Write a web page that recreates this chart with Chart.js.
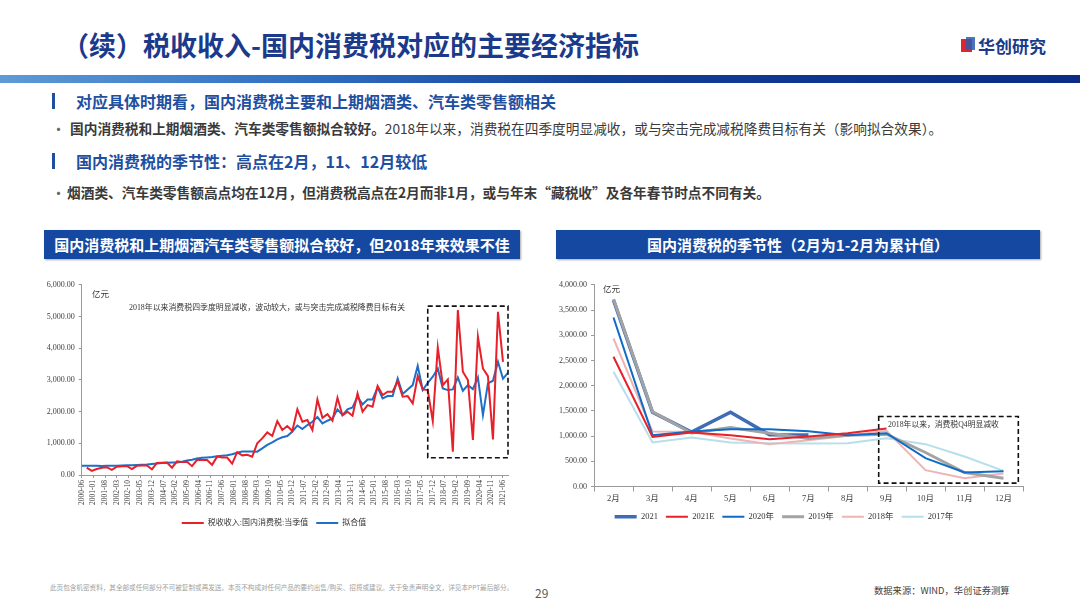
<!DOCTYPE html>
<html>
<head>
<meta charset="utf-8">
<script src="https://cdn.jsdelivr.net/npm/chart.js@4.4.0/dist/chart.umd.min.js"></script>
<style>
body{margin:0;width:1080px;height:604px;position:relative;background:#fff;overflow:hidden;font-family:"Noto Sans CJK SC",sans-serif;}
.abs{position:absolute;white-space:nowrap;line-height:1;}
.title{left:62px;top:31px;font-size:27px;font-weight:700;color:#1b3a8c;}
.band{left:0;top:75px;width:1080px;height:8px;background:linear-gradient(90deg,#5d9ad6 0%,#2e6cc0 30%,#123f98 55%,#0a2c86 100%);}
.hbar{width:3px;height:16px;background:#1f4fa0;left:52px;}
.head{left:76px;font-size:16px;font-weight:700;color:#1f4fa0;}
.dot{left:51px;font-size:15px;color:#666;}
.txt{left:70px;font-size:13.7px;color:#3a3a3a;}
.box{height:29px;background:#1549a1;color:#fff;font-weight:700;font-size:15px;line-height:29px;text-align:center;box-shadow:1px 1px 2px rgba(0,0,0,0.35);}
.note{font-family:"Liberation Serif","Noto Sans CJK SC",serif;color:#333;}
</style>
</head>
<body>
<div class="abs title">（续）税收收入-国内消费税对应的主要经济指标</div>
<div class="abs" style="left:961px;top:39px;width:11px;height:13px;background:#e0262c;"></div>
<div class="abs" style="left:966px;top:37px;width:9px;height:13px;background:#2a5db0;opacity:0.85;"></div>
<div class="abs" style="left:978px;top:37px;font-size:17px;font-weight:700;color:#1b3a8c;">华创研究</div>
<div class="abs band"></div>

<div class="abs hbar" style="top:93px;"></div>
<div class="abs head" style="top:93px;">对应具体时期看，国内消费税主要和上期烟酒类、汽车类零售额相关</div>
<div class="abs dot" style="top:121px;">•</div>
<div class="abs txt" style="top:122px;"><b>国内消费税和上期烟酒类、汽车类零售额拟合较好。</b>2018年以来，消费税在四季度明显减收，或与突击完成减税降费目标有关（影响拟合效果）。</div>
<div class="abs hbar" style="top:153px;"></div>
<div class="abs head" style="top:153px;">国内消费税的季节性：高点在2月，11、12月较低</div>
<div class="abs dot" style="top:185px;">•</div>
<div class="abs txt" style="top:186px;left:67px;font-weight:700;">烟酒类、汽车类零售额高点均在12月，但消费税高点在2月而非1月，或与年末“藏税收”及各年春节时点不同有关。</div>

<div class="abs box" style="left:44px;top:230px;width:476px;">国内消费税和上期烟酒汽车类零售额拟合较好，但2018年来效果不佳</div>
<div class="abs box" style="left:556px;top:230px;width:484px;">国内消费税的季节性（2月为1-2月为累计值）</div>

<canvas id="fitChart" width="480" height="261" style="position:absolute;left:40px;top:276px;"></canvas>
<canvas id="seasonChart" width="520" height="255" style="position:absolute;left:545px;top:276px;"></canvas>

<div class="abs note" style="left:92px;top:290px;font-size:8.5px;">亿元</div>
<div class="abs note" style="left:129px;top:304px;font-size:7.9px;">2018年以来消费税四季度明显减收，波动较大，或与突击完成减税降费目标有关</div>
<div class="abs note" style="left:603px;top:285px;font-size:8.5px;">亿元</div>
<div class="abs note" style="left:888px;top:421px;font-size:7.8px;">2018年以来，消费税Q4明显减收</div>

<div class="abs" style="left:50px;top:584px;font-size:6.6px;color:#a0a0a0;">此页包含机密资料，其全部或任何部分不可被复制或再发送。本页不构成对任何产品的要约出售/购买、招揽或建议。关于免责声明全文，详见本PPT最后部分。</div>
<div class="abs" style="left:535px;top:587px;font-size:12px;color:#595959;">29</div>
<div class="abs" style="left:874px;top:586px;font-size:9.3px;color:#404040;">数据来源：WIND，华创证券测算</div>

<script>
// ---- 左图：季度数据，2000-06 起 ----
const fitTickLabels = ['2000-06','2001-01','2001-08','2002-03','2002-10','2003-05','2003-12','2004-07',
  '2005-02','2005-09','2006-04','2006-11','2007-06','2008-01','2008-08','2009-03','2009-10','2010-05',
  '2010-12','2011-07','2012-02','2012-09','2013-04','2013-11','2014-06','2015-01','2015-08','2016-03',
  '2016-10','2017-05','2017-12','2018-07','2019-02','2019-09','2020-04','2020-11','2021-06'];

// 税收收入:国内消费税:当季值 (2000-06 .. 2021-06)
const taxQuarterly = [null,
  230,130,190,230,245,160,260,275,285,185,290,300,300,180,380,385,390,230,430,410,420,280,480,470,470,320,
  580,555,550,360,720,620,640,580,
  998,1155,1345,1230,1700,1418,1544,1386,2070,1680,1733,1418,2385,1807,1922,1712,2437,1880,1996,1870,
  2574,1996,2206,2153,2805,2521,2626,2626,2962,2468,2489,2258,3120,2700,2679,1702,4023,2836,3015,735,
  5200,3256,2994,1103,4359,3361,3120,1124,5147,3571];

// 拟合值 (2000-06 .. 2021-09)
const fitQuarterly = [
  295,292,290,292,285,288,290,295,300,305,310,318,325,335,350,365,380,388,392,395,420,455,480,520,546,
  555,565,590,610,625,655,700,740,745,740,737,
  840,950,1030,1126,1190,1230,1370,1560,1450,1575,1680,1828,1628,1712,1786,2070,1890,2070,2132,2468,
  2227,2384,2384,2762,2416,2490,2490,3046,2553,2700,2836,3445,2679,2910,3099,3361,2731,2679,2700,3078,
  2658,2836,2710,3078,1890,2889,2973,3571,3036,3225];

const MONTHS_PER_QUARTER = 3;
const MONTHS_PER_TICK = 7;

// ---- 右图：季节性 ----
const monthLabels = ['2月','3月','4月','5月','6月','7月','8月','9月','10月','11月','12月'];
const s2021  = [3696,1470,1080,1475,1025,1020];
const s2021E = [2572,985,1071,1018,939,992,1058,1150];
const s2020  = [3352,1018,1091,1137,1137,1098,1018,1058,562,278,304];
const s2019  = [3716,1481,1060,1170,1058,952,1018,1038,674,278,165];
const s2018  = [2935,1091,1084,952,840,919,1005,1104,324,165,258];
const s2017  = [2274,873,972,873,860,853,860,959,840,595,311];

Chart.defaults.font.family = "'Liberation Serif','Noto Sans CJK SC',serif";
Chart.defaults.color = '#404040';
Chart.defaults.animation = false;

const dashBox = {
  id: 'dashBox',
  afterDatasetsDraw(chart, args, opts) {
    const {ctx, scales: {x, y}} = chart;
    const l = x.getPixelForValue(opts.x0), r = x.getPixelForValue(opts.x1);
    const t = y.getPixelForValue(opts.y1), b = y.getPixelForValue(opts.y0);
    ctx.save();
    ctx.setLineDash([5, 3]);
    ctx.lineWidth = 1.6;
    ctx.strokeStyle = '#111';
    ctx.strokeRect(l, t, r - l, b - t);
    ctx.restore();
  }
};

const fmt2 = v => Number(v).toLocaleString('en-US', {minimumFractionDigits: 2, maximumFractionDigits: 2});
const axisGray = '#9a9a9a';

new Chart(document.getElementById('fitChart'), {
  type: 'line',
  data: {
    datasets: [{
      label: '税收收入:国内消费税:当季值',
      data: taxQuarterly.map((v, i) => ({x: i * MONTHS_PER_QUARTER, y: v})),
      borderColor: '#e8202a',
      backgroundColor: '#e8202a',
      borderWidth: 2
    }, {
      label: '拟合值',
      data: fitQuarterly.map((v, i) => ({x: i * MONTHS_PER_QUARTER, y: v})),
      borderColor: '#1e6fc6',
      backgroundColor: '#1e6fc6',
      borderWidth: 2
    }]
  },
  options: {
    responsive: false,
    elements: {point: {radius: 0}, line: {tension: 0}},
    layout: {padding: {top: 4, right: 12, left: 0, bottom: 0}},
    plugins: {
      tooltip: {enabled: false},
      legend: {
        position: 'bottom',
        labels: {usePointStyle: true, pointStyle: 'line', pointStyleWidth: 22, padding: 8,
                 font: {size: 8}, color: '#333'}
      },
      dashBox: {x0: 207, x1: 255, y0: 545, y1: 5328}
    },
    scales: {
      x: {
        type: 'linear', min: 0, max: 255,
        afterBuildTicks: s => { s.ticks = fitTickLabels.map((t, i) => ({value: i * MONTHS_PER_TICK})); },
        afterFit: s => { s.height = 36; },
        ticks: {autoSkip: false, minRotation: 90, maxRotation: 90, padding: 2, font: {size: 7.5},
                callback: v => fitTickLabels[Math.round(v / MONTHS_PER_TICK)]},
        grid: {drawOnChartArea: false, tickLength: 3, color: axisGray},
        border: {color: axisGray}
      },
      y: {
        min: 0, max: 6000,
        afterFit: s => { s.width = 41.7; },
        ticks: {stepSize: 1000, padding: 4, font: {size: 8}, callback: fmt2},
        grid: {drawOnChartArea: false, tickLength: 3, color: axisGray},
        border: {color: axisGray}
      }
    }
  },
  plugins: [dashBox]
});

new Chart(document.getElementById('seasonChart'), {
  type: 'line',
  data: {
    labels: monthLabels,
    datasets: [
      {label: '2021',  data: s2021,  borderColor: '#3e6db5', backgroundColor: '#3e6db5', borderWidth: 3.5, order: 2},
      {label: '2021E', data: s2021E, borderColor: '#e8202a', backgroundColor: '#e8202a', borderWidth: 2, order: 0},
      {label: '2020年', data: s2020, borderColor: '#0f6cc6', backgroundColor: '#0f6cc6', borderWidth: 2, order: 0},
      {label: '2019年', data: s2019, borderColor: '#a3a3a3', backgroundColor: '#a3a3a3', borderWidth: 3, order: 1},
      {label: '2018年', data: s2018, borderColor: '#eeb4b4', backgroundColor: '#eeb4b4', borderWidth: 2, order: 3},
      {label: '2017年', data: s2017, borderColor: '#b6dfea', backgroundColor: '#b6dfea', borderWidth: 2, order: 4}
    ]
  },
  options: {
    responsive: false,
    elements: {point: {radius: 0}, line: {tension: 0}},
    layout: {padding: {top: 3, right: 42, left: 0, bottom: 0}},
    plugins: {
      tooltip: {enabled: false},
      legend: {
        position: 'bottom',
        labels: {usePointStyle: true, pointStyle: 'line', pointStyleWidth: 22, padding: 8,
                 font: {size: 8.5}, color: '#333',
                 sort: (a, b) => a.datasetIndex - b.datasetIndex}
      },
      dashBox: {x0: 6.8, x1: 10.38, y0: 67, y1: 1388}
    },
    scales: {
      x: {
        offset: true,
        afterFit: s => { s.height = 18; },
        ticks: {padding: 2, font: {size: 8.5}},
        grid: {drawOnChartArea: false, offset: true, tickLength: 5, color: axisGray},
        border: {color: axisGray}
      },
      y: {
        min: 0, max: 4000,
        afterFit: s => { s.width = 49; },
        ticks: {stepSize: 500, padding: 4, font: {size: 8}, callback: fmt2},
        grid: {drawOnChartArea: false, tickLength: 3, color: axisGray},
        border: {color: axisGray}
      }
    }
  },
  plugins: [dashBox]
});
</script>
</body>
</html>
